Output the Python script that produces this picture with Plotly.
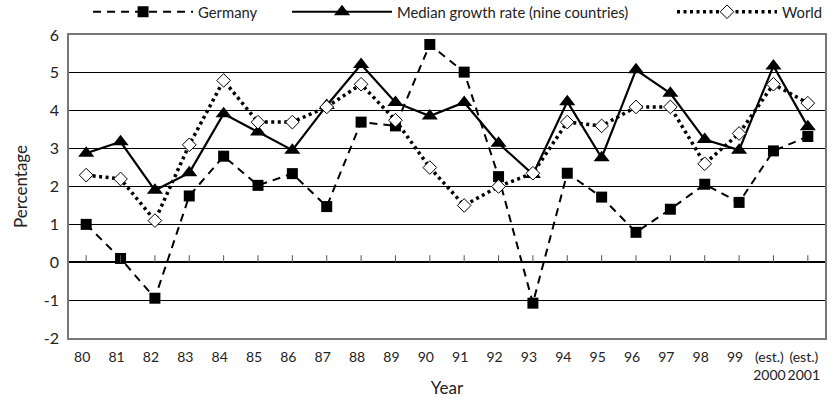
import plotly.graph_objects as go

years = ["80", "81", "82", "83", "84", "85", "86", "87", "88", "89", "90",
         "91", "92", "93", "94", "95", "96", "97", "98", "99",
         "(est.)<br>2000", "(est.)<br>2001"]

germany = [1.0, 0.1, -0.95, 1.75, 2.8, 2.03, 2.34, 1.47, 3.7, 3.6, 5.75,
           5.02, 2.26, -1.08, 2.35, 1.72, 0.79, 1.4, 2.06, 1.58, 2.94, 3.32]

median = [2.88, 3.18, 1.9, 2.36, 3.92, 3.44, 2.96, 4.14, 5.22, 4.22, 3.86,
          4.22, 3.14, 2.32, 4.24, 2.76, 5.08, 4.46, 3.24, 2.96, 5.18, 3.58]

world = [2.3, 2.2, 1.1, 3.1, 4.8, 3.7, 3.7, 4.1, 4.7, 3.75, 2.5,
         1.5, 2.0, 2.35, 3.7, 3.6, 4.1, 4.1, 2.6, 3.4, 4.7, 4.2]

y_ticks = [-2, -1, 0, 1, 2, 3, 4, 5, 6]
y_ticktext = ["-2", "-1", "0", "1", "2", "3", "4", "5", "6"]

FONT = "Lato"
TXT = "#222222"

fig = go.Figure()

fig.add_trace(go.Scatter(
    x=years, y=germany, name="Germany", mode="lines+markers",
    line=dict(color="black", width=2, dash="8px,6px"),
    marker=dict(symbol="square", size=11, color="black"),
    legend="legend",
))
fig.add_trace(go.Scatter(
    x=years, y=median, name="Median growth rate (nine countries)", mode="lines+markers",
    line=dict(color="black", width=2.2),
    marker=dict(symbol="triangle-up", size=14, color="black"),
    legend="legend2",
))
fig.add_trace(go.Scatter(
    x=years, y=world, name="World", mode="lines+markers",
    line=dict(color="black", width=3.5, dash="3px,3.5px"),
    marker=dict(symbol="diamond", size=10.5, color="white",
                line=dict(color="black", width=1)),
    legend="legend3",
))

# small upward ticks on the zero line at every category (category index)
shapes = [dict(type="line", xref="x", yref="y", x0=i, x1=i, y0=0, y1=0.185,
               line=dict(color="#555555", width=1), layer="above")
          for i, _ in enumerate(years)]

leg_common = dict(orientation="h", yanchor="middle", y=0.970, yref="container",
                  xref="container", xanchor="left",
                  bgcolor="rgba(0,0,0,0)", font=dict(family=FONT, size=14.8, color=TXT),
                  itemwidth=100)

fig.update_layout(
    width=837, height=404,
    margin=dict(l=69, r=12, t=35, b=66, autoexpand=False),
    paper_bgcolor="white", plot_bgcolor="white",
    font=dict(family=FONT, color=TXT),
    showlegend=True,
    legend=dict(x=0.1052, **leg_common),
    legend2=dict(x=0.3429, **leg_common),
    legend3=dict(x=0.8029, **leg_common),
    shapes=shapes,
    xaxis=dict(
        type="category", categoryarray=years, range=[-0.5, len(years) - 0.5],
        showgrid=False, ticks="", showline=True, linecolor="#777777", linewidth=1.5,
        mirror=True, tickangle=0, tickfont=dict(family=FONT, size=14, color=TXT),
        ticklabelshift=-4, ticklabelstandoff=5,
        title=dict(text="Year", font=dict(family=FONT, size=17, color=TXT), standoff=0),
    ),
    yaxis=dict(
        range=[-2, 6], tickmode="array", tickvals=y_ticks, ticktext=y_ticktext,
        showgrid=True, gridcolor="black", gridwidth=1.3,
        zeroline=True, zerolinecolor="black", zerolinewidth=1.5,
        showline=True, linecolor="#777777", linewidth=1.5, mirror=True,
        ticks="", ticklabelstandoff=5,
        tickfont=dict(family=FONT, size=16, color=TXT),
        title=dict(text="Percentage", font=dict(family=FONT, size=17, color=TXT), standoff=12),
    ),
)

fig.write_html("out.html", config={"displayModeBar": False},
               post_script="document.body.style.margin='0';")
